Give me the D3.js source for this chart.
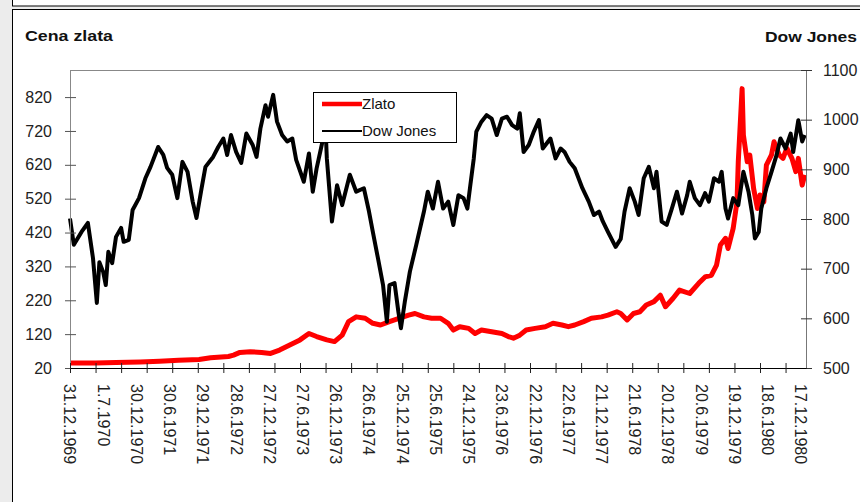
<!DOCTYPE html>
<html><head><meta charset="utf-8">
<script src="https://cdn.jsdelivr.net/npm/d3@7"></script>
<style>
html,body{margin:0;padding:0;background:#fff;}
svg{display:block;font-family:"Liberation Sans",Arial,sans-serif;}
</style></head>
<body><svg id="c" width="860" height="502"></svg>
<script>
// ---- data (week index from 31.12.1969) ----
const xLabels = ["31.12.1969","1.7.1970","30.12.1970","30.6.1971","29.12.1971","28.6.1972","27.12.1972","27.6.1973","26.12.1973","26.6.1974","25.12.1974","25.6.1975","24.12.1975","23.6.1976","22.12.1976","22.6.1977","21.12.1977","21.6.1978","20.12.1978","20.6.1979","19.12.1979","18.6.1980","17.12.1980"];
const leftTicks = [20,120,220,320,420,520,620,720,820];
const rightTicks = [500,600,700,800,900,1000,1100];

const dowWeek = [0,3,9,14,18,21,23,26,28,30,33,36,40,42,46,49,54,59,63,69,73,76,80,84,88,92,96,99,103,106,112,116,120,123,126,130,134,138,143,146,149,153,155,159,162,166,170,174,177,183,187,190,193,197,200,201,205,209,213,219,224,230,234,237,241,245,248,250,254,257,259,262,266,271,277,280,284,288,292,296,300,304,308,311,313,316,318,322,326,330,334,338,342,346,350,352,355,359,363,367,370,376,380,384,387,391,395,401,406,410,414,417,421,427,431,434,438,442,445,449,453,457,459,463,467,471,475,479,483,485,489,493,497,500,504,508,510,513,515,519,523,527,531,534,536,539,541,545,549,553,556,560,564,566,570,573,575];
const dowValue = [801,748,774,792,721,631,713,693,667,734,711,764,782,754,758,818,842,882,905,945,929,903,889,842,915,895,835,802,862,905,925,945,962,929,969,935,913,972,949,925,982,1029,1006,1050,996,969,956,962,919,875,932,855,902,949,985,922,795,868,828,889,855,862,815,774,721,667,593,667,671,613,580,633,694,748,815,855,821,875,821,835,788,848,842,821,862,922,976,996,1009,1002,969,1002,1006,989,982,1013,935,949,976,999,942,962,922,942,935,915,902,862,835,808,815,795,774,744,760,815,862,835,808,882,905,862,895,795,788,821,855,811,848,875,842,828,852,835,882,875,895,821,801,842,828,895,855,808,761,774,821,862,895,929,962,942,972,935,999,956,969];

const goldWeek = [0,20,36,55,70,85,101,110,124,128,133,141,150,157,164,172,180,187,193,201,207,213,218,224,231,237,243,250,258,265,270,277,283,290,296,300,305,312,317,322,330,338,343,347,352,357,364,372,378,385,390,395,402,408,416,421,428,431,436,441,446,451,457,462,466,472,477,485,492,497,502,506,509,513,515,519,522,523,526,527,530,532,535,538,540,543,545,549,551,555,558,561,565,568,570,573,575];
const goldValue = [35,35,36,38,40,43,45,50,54,58,66,68,66,63,73,88,103,122,113,103,98,117,157,171,167,152,147,157,167,176,181,171,167,167,152,132,142,137,122,132,127,122,113,108,117,132,137,142,152,147,142,147,157,167,171,176,186,181,162,181,186,206,216,235,201,226,250,240,270,289,294,324,383,403,373,432,511,629,845,708,629,649,550,491,531,511,619,649,688,649,639,669,639,600,639,560,590];

// ---- layout ----
const svg = d3.select("#c");
const L = 70, R = 806, T = 70, B = 368;
const x = d3.scaleLinear().domain([0,576]).range([L,R]);
const yL = d3.scaleLinear().domain([20,900]).range([B,T]);
const yR = d3.scaleLinear().domain([500,1100]).range([B,T]);

// outer frame
svg.append("rect").attr("x",0).attr("y",0).attr("width",12).attr("height",502).attr("fill","#ececec");
svg.append("rect").attr("x",12).attr("y",6).attr("width",848).attr("height",3.5).attr("fill","#ececec");
svg.append("line").attr("x1",12.5).attr("x2",12.5).attr("y1",0).attr("y2",6).attr("stroke","#000");
svg.append("line").attr("x1",12).attr("x2",860).attr("y1",6).attr("y2",6).attr("stroke","#000");
svg.append("line").attr("x1",12).attr("x2",860).attr("y1",9.5).attr("y2",9.5).attr("stroke","#000");
svg.append("line").attr("x1",12.5).attr("x2",12.5).attr("y1",9.5).attr("y2",502).attr("stroke","#000");

// titles
svg.append("text").attr("x",25).attr("y",41).attr("font-size",15.5).attr("font-weight","bold").attr("fill","#111")
  .attr("textLength",88).attr("lengthAdjust","spacingAndGlyphs").text("Cena zlata");
svg.append("text").attr("x",765).attr("y",42).attr("font-size",15.5).attr("font-weight","bold").attr("fill","#111")
  .attr("textLength",92).attr("lengthAdjust","spacingAndGlyphs").text("Dow Jones");

// plot border
svg.append("line").attr("x1",L).attr("x2",R).attr("y1",T+0.5).attr("y2",T+0.5).attr("stroke","#888");

// lines
const dowData = dowWeek.map((w,i)=>[w,dowValue[i]]);
const goldData = goldWeek.map((w,i)=>[w,goldValue[i]]);
svg.append("path").datum(goldData)
  .attr("d", d3.line().x(d=>x(d[0])).y(d=>yL(d[1])))
  .attr("fill","none").attr("stroke","#f00").attr("stroke-width",5).attr("stroke-linejoin","round");
svg.append("path").datum(dowData)
  .attr("d", d3.line().x(d=>x(d[0])).y(d=>yR(d[1])))
  .attr("fill","none").attr("stroke","#000").attr("stroke-width",4).attr("stroke-linejoin","round");

// left axis
const gl = svg.append("g").attr("transform",`translate(${L},0)`)
  .call(d3.axisLeft(yL).tickValues(leftTicks).tickSize(5).tickPadding(13).tickSizeOuter(0));
gl.select(".domain").attr("stroke","#888");
gl.selectAll(".tick line").attr("x2",6).attr("x1",-5).attr("stroke","#555");
gl.selectAll("text").attr("font-size",16).attr("fill","#222").attr("font-family","Liberation Sans, Arial, sans-serif");

// right axis
const gr = svg.append("g").attr("transform",`translate(${R},0)`)
  .call(d3.axisRight(yR).tickValues(rightTicks).tickFormat(d3.format("d")).tickSize(6).tickPadding(11).tickSizeOuter(0));
gr.select(".domain").attr("stroke","#777");
gr.selectAll(".tick line").attr("x1",-5).attr("x2",6).attr("stroke","#333");
gr.selectAll("text").attr("font-size",16).attr("fill","#222").attr("font-family","Liberation Sans, Arial, sans-serif");

// bottom axis
const tickWeeks = d3.range(0, 577, 20);
const gb = svg.append("g").attr("transform",`translate(0,${B})`)
  .call(d3.axisBottom(x).tickValues(tickWeeks).tickSize(5).tickFormat("").tickSizeOuter(0));
gb.select(".domain").attr("stroke","#000");
gb.selectAll(".tick line").attr("y1",-5).attr("y2",5).attr("stroke","#222");
svg.append("g").selectAll("text").data(xLabels).join("text")
  .attr("transform",(d,i)=>`translate(${x(i*26)},${384}) rotate(90)`)
  .attr("dy","0.35em").attr("font-size",16).attr("fill","#222").text(d=>d);

// legend
const lg = svg.append("g");
lg.append("rect").attr("x",313.5).attr("y",92.5).attr("width",143).attr("height",50).attr("fill","#fff").attr("stroke","#000");
lg.append("line").attr("x1",322).attr("x2",362).attr("y1",104).attr("y2",104).attr("stroke","#f00").attr("stroke-width",4.5);
lg.append("line").attr("x1",322).attr("x2",362).attr("y1",131).attr("y2",131).attr("stroke","#000").attr("stroke-width",2);
lg.append("text").attr("x",362).attr("y",109).attr("font-size",15).attr("fill","#111").text("Zlato");
lg.append("text").attr("x",362).attr("y",136).attr("font-size",15).attr("fill","#111").text("Dow Jones");
</script></body></html>
